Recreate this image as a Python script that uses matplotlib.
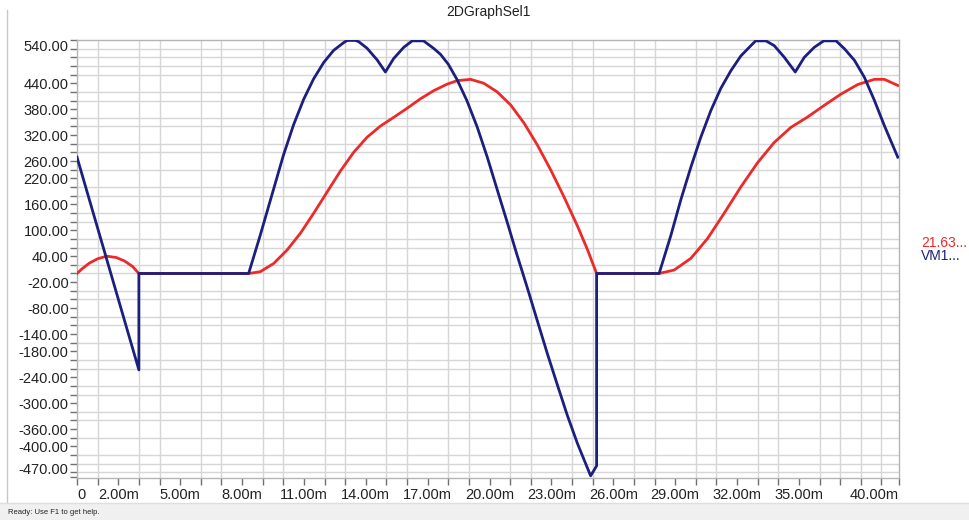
import matplotlib
matplotlib.use("Agg")
import matplotlib.pyplot as plt
from matplotlib.lines import Line2D
from matplotlib.patches import Rectangle

plt.rcParams["font.family"] = ["Liberation Sans", "DejaVu Sans"]

# time in ms
blue_t = [0.0, 3.0, 3.0, 8.32, 8.88, 9.53, 10.01, 10.5, 10.99, 11.47,
          11.96, 12.44, 12.93, 13.1, 13.5, 13.66, 14.06, 14.55, 14.95, 15.35,
          15.84, 16.25, 16.8, 17.28, 17.62, 18.0, 18.43, 18.9, 19.4, 19.89,
          20.37, 20.86, 21.3, 21.83, 22.32, 22.8, 23.29, 23.77, 24.26, 24.9,
          25.19, 25.19, 28.22, 28.79, 29.27, 29.76, 30.24, 30.73, 31.21, 31.7,
          32.18, 32.67, 32.9, 33.4, 33.8, 34.29, 34.82, 35.26, 35.74, 36.2,
          36.8, 37.2, 37.69, 38.17, 38.66, 39.14, 39.79]
blue_v = [269, -223, 0, 0, 88, 195, 274, 344, 403, 450,
          488, 516, 534, 539, 539, 536, 521, 494, 466, 497,
          523, 538, 538, 521, 507, 484, 448, 400, 339, 269,
          194, 118, 48, -33, -110, -185, -258, -328, -393, -468,
          -445, 0, 0, 88, 170, 246, 315, 377, 428, 469,
          503, 527, 538, 538, 527, 500, 466, 500, 523, 538,
          538, 520, 493, 454, 400, 342, 269]

red_t = [0.0, 0.25, 0.6, 1.0, 1.44, 1.9, 2.3, 2.7, 3.0, 8.32,
         8.88, 9.53, 10.18, 10.83, 11.47, 12.12, 12.77, 13.41, 14.06, 14.71,
         15.35, 16.0, 16.65, 17.3, 17.95, 18.43, 19.08, 19.72, 20.37, 21.02,
         21.67, 22.32, 22.96, 23.61, 24.26, 24.74, 25.19, 28.22, 28.95, 29.76,
         30.57, 31.37, 32.18, 32.99, 33.8, 34.61, 35.42, 36.23, 37.04, 37.85,
         38.66, 39.14, 39.79]
red_v = [0, 11, 24, 34, 40, 37, 29, 16, 0, 0,
         4, 23, 54, 93, 139, 188, 237, 280, 315, 341,
         361, 382, 404, 423, 438, 446, 449, 440, 420, 390,
         348, 297, 240, 177, 110, 56, 0, 0, 8, 35,
         81, 139, 200, 256, 303, 338, 362, 389, 415, 437,
         449, 449, 435]

x_ticks = [0, 2, 5, 8, 11, 14, 17, 20, 23, 26, 29, 32, 35, 39.85]
x_labels = ["0", "2.00m", "5.00m", "8.00m", "11.00m", "14.00m", "17.00m",
            "20.00m", "23.00m", "26.00m", "29.00m", "32.00m", "35.00m", "40.00m"]
y_ticks = [540, 440, 380, 320, 260, 220, 160, 100, 40, -20, -80, -140,
           -180, -240, -300, -360, -400, -470]
y_labels = ["%.2f" % v for v in y_ticks]

legend_labels = ["21.63...", "VM1..."]

RED = "#ec2a2a"
NAVY = "#1d1f7e"

fig = plt.figure(figsize=(9.7, 5.2), dpi=100)
ax = fig.add_axes([77 / 970, 42 / 520, 822 / 970, 438 / 520])

ax.plot(red_t, red_v, color=RED, lw=2.0, zorder=3, solid_joinstyle="round")
ax.plot(blue_t, blue_v, color=NAVY, lw=2.0, zorder=4, solid_joinstyle="round")

ax.set_xlim(0, 39.85)
ax.set_ylim(-473, 540)

ax.set_xticks(x_ticks)
ax.set_xticklabels(x_labels)
ax.set_xticks(list(range(0, 40)), minor=True)
ax.set_yticks(y_ticks)
ax.set_yticklabels(y_labels)
ax.set_yticks(list(range(-460, 541, 20)), minor=True)

ax.grid(which="minor", color="#d6d6d6", lw=1.0)
ax.set_axisbelow(True)

for side in ["top", "right", "left", "bottom"]:
    ax.spines[side].set_color("#b4b4b4")
    ax.spines[side].set_linewidth(1.0)

ax.tick_params(which="both", direction="out", length=5, width=1,
               color="#707070", labelsize=10.5, labelcolor="#222222")
ax.tick_params(axis="x", pad=2)
ax.tick_params(axis="y", pad=1)

xl = ax.get_xticklabels()
xl[0].set_horizontalalignment("left")
xl[-1].set_horizontalalignment("right")
yl = ax.get_yticklabels()
yl[0].set_verticalalignment("top")
yl[-1].set_verticalalignment("bottom")

fig.text(488 / 970, 1 - 12 / 520, "2DGraphSel1", ha="center", va="center",
         fontsize=10, color="#222222")

fig.text(921 / 970, 1 - 243 / 520, legend_labels[0], color=RED,
         fontsize=10, va="center", ha="left")
fig.text(921 / 970, 1 - 256 / 520, legend_labels[1], color=NAVY,
         fontsize=10, va="center", ha="left")

# window border and status bar
fig.add_artist(Line2D([7 / 970, 7 / 970], [17 / 520, 1 - 10 / 520],
                      color="#c8c8c8", lw=1))
fig.add_artist(Rectangle((0, 0), 1, 17 / 520, transform=fig.transFigure,
                         facecolor="#f0f0f0", edgecolor="none"))
fig.add_artist(Line2D([0, 1], [17 / 520, 17 / 520], color="#dedede", lw=1))
fig.text(8 / 970, 8 / 520, "Ready: Use F1 to get help.", fontsize=5.5,
         va="center", ha="left", color="#222222")

fig.savefig("out.png", dpi=100)
